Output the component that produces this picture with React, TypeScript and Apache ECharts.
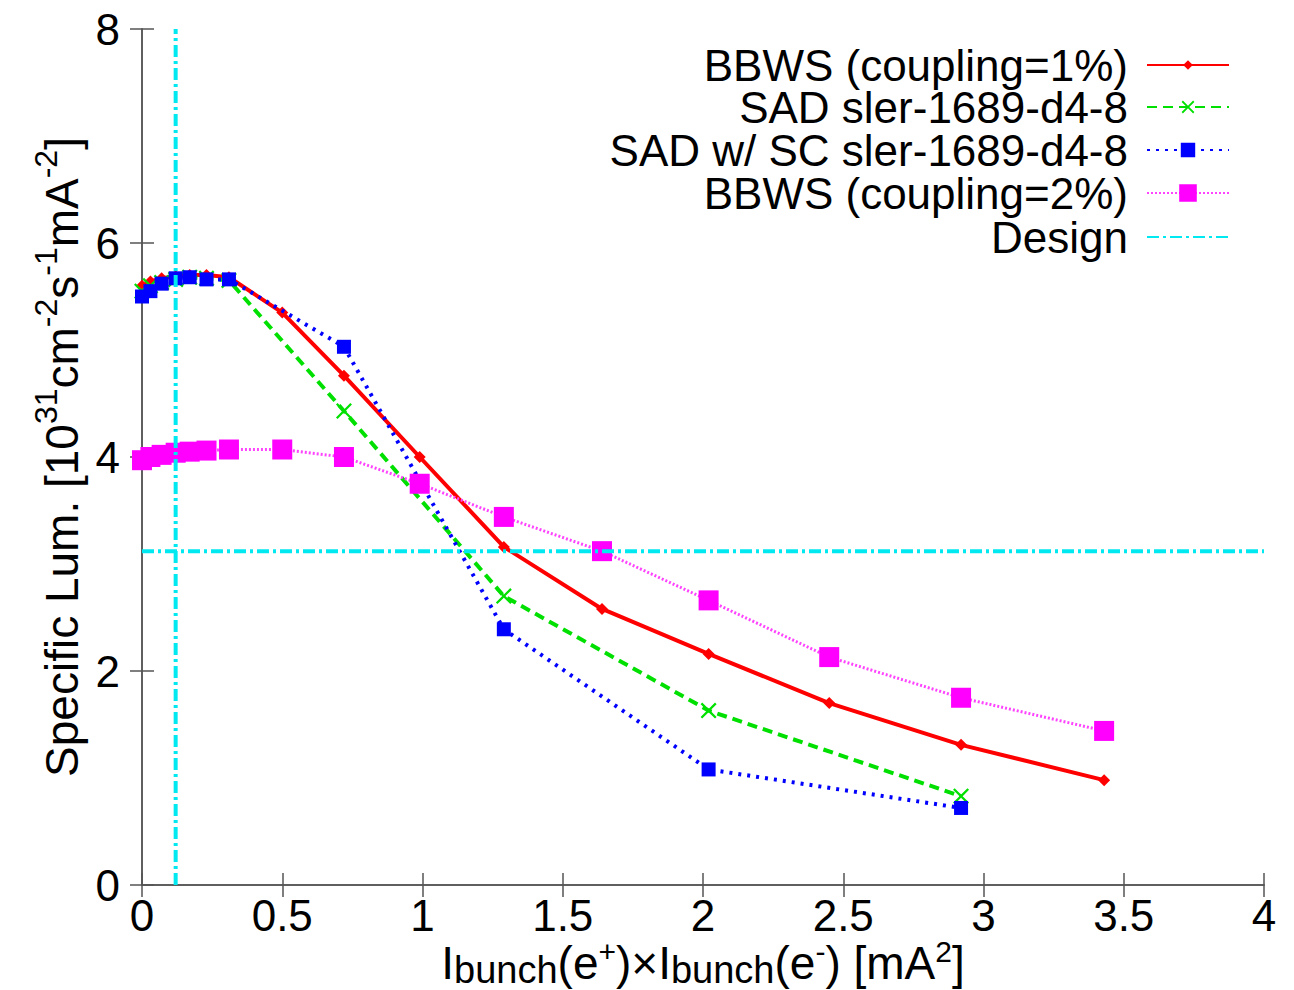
import React, { useEffect, useRef } from "react";
import * as echarts from "echarts";

const xFull = [0, 0.03, 0.07, 0.12, 0.17, 0.23, 0.31, 0.5, 0.72, 0.99, 1.29, 1.64, 2.02, 2.45, 2.92, 3.43];
const xSad = [0, 0.03, 0.07, 0.12, 0.17, 0.23, 0.31, 0.72, 1.29, 2.02, 2.92];
const bbws1 = [5.6, 5.64, 5.67, 5.69, 5.7, 5.7, 5.68, 5.35, 4.76, 4.0, 3.16, 2.58, 2.16, 1.7, 1.31, 0.98];
const sad = [5.55, 5.6, 5.63, 5.66, 5.68, 5.67, 5.65, 4.43, 2.7, 1.63, 0.83];
const sadSC = [5.5, 5.55, 5.62, 5.67, 5.68, 5.66, 5.66, 5.03, 2.39, 1.08, 0.72];
const bbws2 = [3.97, 4.0, 4.02, 4.04, 4.05, 4.06, 4.07, 4.07, 4.0, 3.75, 3.44, 3.12, 2.66, 2.13, 1.75, 1.44];
const designX = 0.12;
const designY = 3.12;
const xTicks = [0, 0.5, 1, 1.5, 2, 2.5, 3, 3.5, 4];
const yTicks = [0, 2, 4, 6, 8];
const names = [
  "BBWS (coupling=1%)",
  "SAD sler-1689-d4-8",
  "SAD w/ SC sler-1689-d4-8",
  "BBWS (coupling=2%)",
  "Design",
];

const FONT = "Liberation Sans";
const pair = (xs: number[], ys: number[]) => xs.map((x, i) => [x, ys[i]]);
const X_PATH = "path://M0,1L1,0L5,4L9,0L10,1L6,5L10,9L9,10L5,6L1,10L0,9L4,5Z";

export default function App() {
  const ref = useRef<HTMLDivElement>(null);
  useEffect(() => {
    if (!ref.current) return;
    const chart = echarts.init(ref.current, undefined, { renderer: "svg" });
    const axisCommon = {
      type: "value" as const,
      splitLine: { show: false },
      axisLine: { show: true, lineStyle: { color: "#555", width: 1.5 } },
      axisTick: { show: true, inside: true, length: 12, lineStyle: { color: "#555", width: 1.5 } },
    };
    const legendCenters = [63, 105, 148, 191, 235];
    const legendItemH = [12, 16, 18, 22, 16];
    const legendRight = 64;
    chart.setOption({
      animation: false,
      backgroundColor: "#fff",
      grid: { left: 142, right: 30, top: 29, bottom: 105, outerBoundsMode: "none", containLabel: false },
      legend: names.map((n, i) => ({
        data: i === 4 ? [{ name: n, itemStyle: { opacity: 0 } }] : [n],
        right: legendRight,
        top: legendCenters[i] - 20,
        padding: 0,
        align: "right",
        itemWidth: 82,
        itemHeight: legendItemH[i],
        selectedMode: false,
        textStyle: { fontSize: 44, lineHeight: 40, fontFamily: FONT, color: "#000", padding: [0, 14, 0, 0] },
      })),
      xAxis: [
        {
          ...axisCommon,
          min: 0,
          max: 4,
          interval: 0.5,
          position: "bottom",
          axisLabel: { fontSize: 44, lineHeight: 40, fontFamily: FONT, color: "#000", margin: 10, formatter: (v: number) => (xTicks.includes(v) ? String(v) : "") },
          name: "I{sub|bunch}(e{sup|+})×I{sub|bunch}(e{sup|-}) [mA{sup|2}]",
          nameLocation: "middle",
          nameMoveOverlap: false,
          nameGap: 51,
          nameTextStyle: {
            fontSize: 46,
            fontFamily: FONT,
            color: "#000",
            lineHeight: 53,
            rich: {
              sub: { fontSize: 38, fontFamily: FONT, color: "#000", lineHeight: 30, verticalAlign: "bottom" },
              sup: { fontSize: 30, fontFamily: FONT, color: "#000", lineHeight: 30, verticalAlign: "top" },
            },
          },
        },
        {
          ...axisCommon,
          min: 0,
          max: 4,
          interval: 0.5,
          position: "top",
          axisLabel: { show: false },
        },
      ],
      yAxis: [
        {
          ...axisCommon,
          min: 0,
          max: 8,
          interval: 2,
          position: "left",
          axisLabel: { fontSize: 44, fontFamily: FONT, color: "#000", margin: 22, formatter: (v: number) => (yTicks.includes(v) ? String(v) : "") },
          name: "Specific Lum. [10{sup|31}cm{sup|-2}s{sup|-1}mA{sup|-2}]",
          nameLocation: "middle",
          nameMoveOverlap: false,
          nameGap: 48,
          nameTextStyle: {
            fontSize: 46,
            fontFamily: FONT,
            color: "#000",
            lineHeight: 64,
            rich: {
              sup: { fontSize: 32, fontFamily: FONT, color: "#000", lineHeight: 36, verticalAlign: "top" },
            },
          },
        },
        {
          ...axisCommon,
          min: 0,
          max: 8,
          interval: 2,
          position: "right",
          axisLabel: { show: false },
        },
      ],
      series: [
        {
          name: names[0],
          type: "line",
          data: pair(xFull, bbws1),
          symbol: "diamond",
          symbolSize: 12,
          color: "#ff0000",
          lineStyle: { width: 4, type: "solid", color: "#ff0000" },
          itemStyle: { color: "#ff0000" },
          z: 2,
        },
        {
          name: names[1],
          type: "line",
          data: pair(xSad, sad),
          symbol: X_PATH,
          symbolSize: 16,
          color: "#00e000",
          lineStyle: { width: 4, type: [10, 6], color: "#00e000" },
          itemStyle: { color: "#00e000" },
          z: 3,
        },
        {
          name: names[2],
          type: "line",
          data: pair(xSad, sadSC),
          symbol: "rect",
          symbolSize: 14,
          color: "#0000ff",
          lineStyle: { width: 4, type: [3, 6], color: "#0000ff" },
          itemStyle: { color: "#0000ff" },
          z: 4,
        },
        {
          name: names[3],
          type: "line",
          data: pair(xFull, bbws2),
          symbol: "rect",
          symbolSize: 20,
          color: "#ff00ff",
          lineStyle: { width: 3, type: [2, 2], color: "#ff44ff" },
          itemStyle: { color: "#ff00ff" },
          z: 5,
        },
        {
          name: names[4],
          type: "line",
          data: [[designX, 0], [designX, 8], ["-", "-"], [0, designY], [4, designY]],
          symbol: "none",
          color: "#00e8f0",
          connectNulls: false,
          lineStyle: { width: 4, type: [12, 4, 3, 4], color: "#00e8f0" },
          z: 6,
        },
      ],
    });
    return () => chart.dispose();
  }, []);
  return <div ref={ref} style={{ position: "absolute", left: 0, top: 0, width: 1294, height: 990 }} />;
}
